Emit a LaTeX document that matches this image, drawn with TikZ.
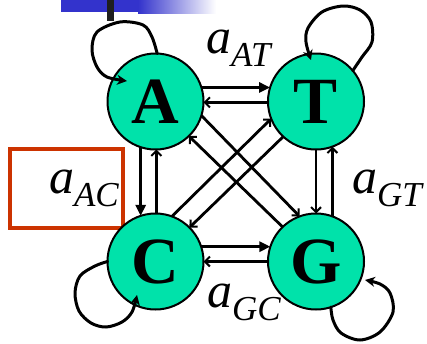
\documentclass[tikz,border=0pt]{standalone}
\usepackage{fontspec}
\setmainfont{Liberation Serif}
\usetikzlibrary{arrows.meta}
\definecolor{nodefill}{RGB}{0,226,170}
\definecolor{barblue}{RGB}{51,51,204}
\definecolor{boxred}{RGB}{204,51,0}
\tikzset{
  state/.style={circle, draw=black, line width=2pt, fill=nodefill, minimum size=96pt, inner sep=0pt, outer sep=0pt,
    font=\fontsize{66}{66}\selectfont\bfseries},
  conn/.style={line width=2.8pt},
  bigtip/.style={conn, -{Triangle[length=11pt,width=10pt]}},
  smalltip/.style={conn, -{Straight Barb[length=5pt,width=10pt,line width=2pt]}},
  loopline/.style={line width=3pt, line cap=round, line join=round, -{Stealth[length=10pt,width=10pt]}},
  lab/.style={anchor=base west, inner sep=0pt, outer sep=0pt},
}
\newcommand{\ratelabel}[1]{{\fontsize{50}{50}\selectfont\itshape a}\raisebox{-13pt}{\fontsize{35}{35}\selectfont\itshape #1}}
\begin{document}
\begin{tikzpicture}[x=1pt,y=-1pt]
\path[use as bounding box] (0,0) rectangle (427,343);
% top bar
\fill[barblue] (61,0) rectangle (138,12);
\shade[left color=barblue, right color=white] (138,0) rectangle (216,13);
\fill[black!88] (107,0) rectangle (114,21);
% red box
\draw[boxred, line width=4.5pt] (10,149) rectangle (123,228);
% nodes
\node[state] (A) at (155.5,101.5) {A};
\node[state] (T) at (316,101.5) {T};
\node[state] (C) at (155.5,261.5) {C};
\node[state] (G) at (316,261.5) {G};
% horizontal
\draw[bigtip] (A.17) -- (T.163);
\draw[smalltip] (T.181) -- (A.-1);
\draw[bigtip] (C.18) -- (G.162);
\draw[smalltip] (G.180) -- (C.0);
% vertical
\draw[bigtip] (A.-108) -- (C.108);
\draw[smalltip] (C.89) -- (A.-89);
\draw[smalltip] (T.-90) -- (G.90);
\draw[smalltip] (G.70) -- (T.-70);
% diagonals
\draw[smalltip] (A.-17) -- (G.110);
\draw[smalltip] (G.134) -- (A.-46);
\draw[smalltip] (C.70) -- (T.201);
\draw[smalltip] (T.227) -- (C.45);
% loops
\coordinate (aend) at (127,81);
\coordinate (tend) at (311,60);
\coordinate (cend) at (137,295);
\coordinate (gend) at (365,280);
\draw[loopline] plot[smooth, tension=0.55] coordinates {(A.88) (152,37) (143,25) (120,22) (97,32) (92,50) (97,67) (107,77) (aend)};
\draw[loopline] plot[smooth, tension=0.55] coordinates {(T.40) (362,57) (372,42) (371,22) (360,10) (343,6) (322,12) (308,28) (306,42) (tend)};
\draw[loopline] plot[smooth, tension=0.55] coordinates {(C.180) (95,266) (80,276) (75,293) (79,311) (91,323) (106,327) (122,322) (132,312) (cend)};
\draw[loopline] plot[smooth, tension=0.55] coordinates {(G.-72) (333,320) (341,333) (360,340) (380,332) (393,312) (390,293) (380,284) (gend)};
% labels
\node[lab] (lat) at (206,53) {\ratelabel{AT}};
\node[lab] (lac) at (49,193) {\ratelabel{AC}};
\node[lab] (lgt) at (352,193) {\ratelabel{GT}};
\node[lab] (lgc) at (207,307) {\ratelabel{GC}};
\end{tikzpicture}
\end{document}
